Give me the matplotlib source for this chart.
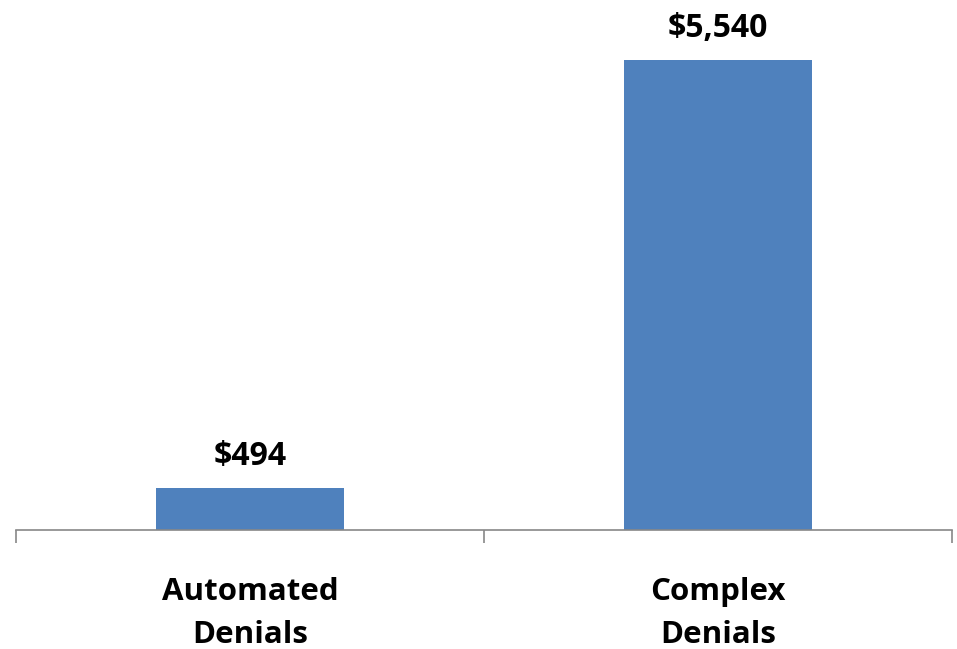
import matplotlib
matplotlib.use("Agg")
import matplotlib.pyplot as plt

# data
categories = ["Automated\nDenials", "Complex\nDenials"]
values = [494, 5540]
value_labels = ["$494", "$5,540"]

bar_color = "#4F81BD"
font = "Open Sans"

fig = plt.figure(figsize=(9.57, 6.49), dpi=100)
W, H = 957, 649
ax = fig.add_axes([16 / W, 119 / H, 936 / W, 510 / H])

x = list(range(len(categories)))
bars = ax.bar(x, values, width=0.4, color=bar_color, zorder=2)
ax.set_xlim(-0.5, len(categories) - 0.5)
ax.set_ylim(0, 5540 * 510 / 470)

for b, lbl in zip(bars, value_labels):
    ax.annotate(lbl, (b.get_x() + b.get_width() / 2, b.get_height()),
                xytext=(0, 11), textcoords="offset points",
                ha="center", va="bottom", fontsize=23, fontweight="bold",
                family=font, color="black")

for s in ["top", "right", "left"]:
    ax.spines[s].set_visible(False)
ax.spines["bottom"].set_color("#888888")
ax.spines["bottom"].set_linewidth(1.2)
ax.set_yticks([])

# tick marks at category boundaries
ax.set_xticks([-0.5, 0.5, 1.5])
ax.set_xticklabels([])
ax.tick_params(axis="x", length=9, width=1.2, color="#888888")
ax.set_xticks(x, minor=True)
ax.set_xticklabels(categories, minor=True, fontsize=22.5, fontweight="bold",
                   family=font, linespacing=1.55)
ax.tick_params(axis="x", which="minor", length=0, pad=34)

fig.savefig("out.png", dpi=100)
